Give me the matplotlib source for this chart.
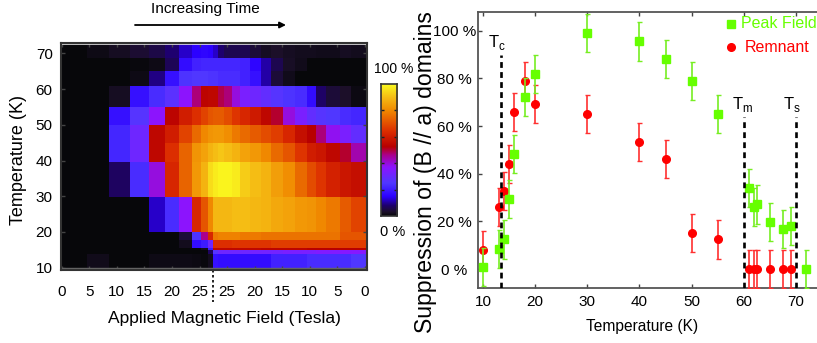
import matplotlib
matplotlib.use('Agg')
import matplotlib.pyplot as plt
import numpy as np
from matplotlib.colors import LinearSegmentedColormap

plt.rcParams['font.family'] = ['Liberation Sans', 'DejaVu Sans']

# heatmap data
field_edges = [0, 4.7, 8.6, 12.4, 15.8, 18.8, 21.3, 23.6, 25.2, 26.6, 27.5, 28.4, 29.4,
               30.8, 32.3, 34.1, 36.2, 38, 40.2, 42.3, 44.4, 46.2, 48, 50.4, 52.5, 55.3]
temp_edges = [9.35, 13.8, 15, 15.5, 17.8, 20, 29.8, 39.7, 44.8, 50, 55.1, 61, 65.1, 68.7, 72.9]
row_blue = [0, .04, 0, 0, .03, .03, .03, .02, .01, .05, .28, .27, .27, .27, .27, .27, .27, .31, .31, .31, .33, .33, .33, .33, .35]
row_violet = [0, 0, 0, 0, 0, 0, 0, 0, 0, .15, .36, .4, .4, .4, .4, .41, .41, .41, .42, .42, .42, .43, .43, .44, .44]
row_dark = [0, 0, 0, 0, 0, 0, 0, 0, .05, .3, .6, .6, .6, .6, .6, .6, .59, .59, .59, .59, .58, .58, .58, .58, .58]
row_red = [0, 0, 0, 0, 0, 0, .05, .27, .3, .4, .7, .7, .7, .71, .71, .71, .71, .72, .72, .72, .72, .72, .72, .72, .72]
row_orange = [0, 0, 0, 0, 0, 0, .1, .34, .52, .68, .8, .81, .81, .81, .8, .8, .79, .79, .79, .79, .79, .79, .79, .75, .75]
row_20 = [0, 0, 0, 0, .22, .33, .45, .68, .75, .82, .91, .91, .91, .92, .92, .91, .9, .88, .87, .85, .84, .82, .8, .76, .73]
row_30 = [0, 0, .15, .33, .47, .68, .77, .85, .9, .96, .98, .99, .99, .98, .94, .92, .9, .86, .83, .78, .74, .71, .67, .64, .62]
row_40 = [0, 0, .32, .4, .6, .7, .77, .84, .87, .9, .92, .93, .92, .9, .87, .85, .82, .78, .75, .71, .66, .64, .6, .56, .5]
row_45 = [0, 0, .32, .4, .6, .66, .73, .78, .82, .84, .85, .85, .83, .8, .78, .76, .74, .72, .68, .62, .58, .53, .46, .42, .38]
row_50 = [0, 0, .28, .36, .45, .59, .66, .7, .73, .75, .76, .76, .74, .71, .68, .65, .6, .56, .47, .42, .38, .36, .35, .33, .32]
row_55 = [0, 0, .06, .28, .33, .37, .45, .53, .59, .6, .6, .55, .53, .47, .42, .4, .38, .36, .34, .33, .27, .16, .1, .08, .02]
row_61 = [0, 0, 0, .03, .18, .28, .34, .35, .35, .34, .34, .33, .33, .33, .31, .28, .2, .1, .04, 0, 0, 0, 0, 0, 0]
row_65 = [0, 0, 0, .01, .03, .14, .27, .31, .32, .32, .32, .32, .32, .32, .31, .26, .2, .13, .07, .04, 0, 0, 0, 0, 0]
row_69 = [0, .03, .06, .09, .12, .17, .22, .25, .26, .25, .22, .17, .13, .13, .13, .1, .06, .08, .06, .05, .05, .04, .04, .06, .05]
heat_rows = [row_blue, row_violet, row_dark, row_red, row_orange, row_20, row_30, row_40,
             row_45, row_50, row_55, row_61, row_65, row_69]
field_ticks = [0, 5, 10, 15, 20, 25, 30, 35, 40, 45, 50, 55]
field_labels = ['0', '5', '10', '15', '20', '25', '25', '20', '15', '10', '5', '0']
temp_ticks = [10, 20, 30, 40, 50, 60, 70]

# suppression data
peak_t = [10, 13, 14, 15, 16, 18, 20, 30, 40, 45, 50, 55, 61, 62, 62.5, 65, 67.5, 69, 72]
peak_v = [0.8, 8.3, 12.4, 29.4, 48.3, 72.3, 82, 99, 95.5, 88, 78.9, 65.2, 34.1, 26.1, 27.1, 19.6, 16.8, 17.9, 0]
rem_t = [10, 13, 14, 15, 16, 18, 20, 30, 40, 45, 50, 55, 61, 62, 62.5, 65, 67.5, 69]
rem_v = [8, 25.9, 32.6, 44, 66, 79, 69.4, 65.2, 53.4, 46.2, 15.2, 12.4, 0, 0, 0, 0, 0, 0]
err = 8

colors = ['#07070a', '#1c0f2a', '#1e0070', '#2c00ff', '#5038ff', '#8c14ff', '#aa0090',
          '#b80000', '#dc2c00', '#f08800', '#f5bc14', '#fafa1e']
mesh_stops = [0, .08, .17, .25, .35, .45, .52, .58, .7, .82, .92, 1]
bar_stops = [0, .03, .08, .146, .25, .37, .46, .525, .64, .8, .9, 1]
mesh_cmap = LinearSegmentedColormap.from_list('mesh', list(zip(mesh_stops, colors)))
bar_cmap = LinearSegmentedColormap.from_list('bar', list(zip(bar_stops, colors)))

W, H = 817, 343
spine = '#333333'


def box(x0, y0, x1, y1):
    return fig.add_axes([x0 / W, 1 - y1 / H, (x1 - x0) / W, (y1 - y0) / H])


fig = plt.figure(figsize=(W / 100, H / 100), dpi=100)

# left panel
ax = box(61, 43, 366.7, 270)
ax.pcolormesh(field_edges, temp_edges, np.array(heat_rows), cmap=mesh_cmap, vmin=0, vmax=1)
ax.set_xlim(-0.1, 55.3)
ax.set_ylim(9.35, 72.9)
ax.set_xticks(field_ticks)
ax.set_xticklabels(field_labels)
ax.set_yticks(temp_ticks)
ax.tick_params(direction='in', length=3, width=1, color='#444444', labelsize=11, top=True, right=True, pad=6)
ax.tick_params(axis='x', pad=10.5)
ax.axhline(72.5, color='#e8e8e8', lw=1.2)
ax.axhline(9.8, color='#666666', lw=1)
for s in ax.spines.values():
    s.set_color(spine)
    s.set_linewidth(1.5)
ax.plot([27.5, 27.5], [9.35, 0.4], color='black', ls=(0, (1.5, 1.5)), lw=1.2, clip_on=False)
fig.text(19 / W, 1 - 160 / H, 'Temperature (K)', rotation=90, ha='center', va='center', fontsize=13)
fig.text(224 / W, 1 - 318 / H, 'Applied Magnetic Field (Tesla)', ha='center', va='center', fontsize=12.5)
fig.text(205 / W, 1 - 9 / H, 'Increasing Time', ha='center', va='center', fontsize=11.1)
fig.add_artist(matplotlib.patches.FancyArrowPatch((135 / W, 1 - 25 / H), (286 / W, 1 - 25 / H),
                                                  transform=fig.transFigure, arrowstyle='-|>',
                                                  mutation_scale=9, lw=1.3, color='black',
                                                  shrinkA=0, shrinkB=0))

# colorbar
cax = box(380.7, 84, 397, 216)
cax.imshow(np.linspace(1, 0, 256).reshape(-1, 1), aspect='auto', cmap=bar_cmap, vmin=0, vmax=1,
           extent=[0, 1, 0, 100])
cax.set_xticks([])
cax.set_yticks([20, 40, 60, 80])
cax.set_yticklabels([])
cax.tick_params(direction='in', length=2.5, width=1, color='#222222', left=True, right=True)
for s in cax.spines.values():
    s.set_color(spine)
    s.set_linewidth(1.2)
fig.text(394 / W, 1 - 69 / H, '100 %', ha='center', va='center', fontsize=10)
fig.text(393 / W, 1 - 232.5 / H, '0 %', ha='center', va='center', fontsize=10.5)

# right panel
ax2 = box(478, 11.7, 817, 288)
ax2.errorbar(rem_t, rem_v, yerr=err, fmt='o', color='#ff0000', ecolor='#ff3030', ms=5.5, elinewidth=1.2,
             capsize=1.8, capthick=1, zorder=3)
ax2.errorbar(peak_t, peak_v, yerr=err, fmt='s', color='#66ff00', ecolor='#77ee22', ms=5.2, elinewidth=1.2,
             capsize=1.8, capthick=1, zorder=4)
for t, top in [(13.5, 90), (60, 64), (70, 64)]:
    ax2.plot([t, t], [-8, top], color='black', ls=(0, (2.2, 1.6)), lw=1.9, zorder=5)
ax2.set_xlim(9.04, 74.05)
ax2.set_ylim(-7.97, 108)
ax2.set_xticks([10, 20, 30, 40, 50, 60, 70])
ax2.set_yticks([0, 20, 40, 60, 80, 100])
ax2.set_yticklabels(['0 %', '20 %', '40 %', '60 %', '80 %', '100 %'])
ax2.tick_params(direction='in', length=3, width=1, color='#444444', labelsize=11, top=True, pad=5)
ax2.tick_params(axis='y', pad=17)
for lab in ax2.get_yticklabels():
    lab.set_ha('center')
ax2.spines['right'].set_visible(False)
for s in ax2.spines.values():
    s.set_color('#555555')
    s.set_linewidth(1.3)
ax2.plot([0.745], [0.955], 's', color='#66ff00', ms=5.5, transform=ax2.transAxes)
ax2.plot([0.745], [0.872], 'o', color='#ff0000', ms=5.5, transform=ax2.transAxes)
fig.text(741 / W, 1 - 23 / H, 'Peak Field', color='#66ff00', va='center', fontsize=11.5)
fig.text(745 / W, 1 - 47 / H, 'Remnant', color='#ff0000', va='center', fontsize=11.5)
fig.text(497 / W, 1 - 42 / H, 'T$_{\\mathregular{c}}$', ha='center', va='center', fontsize=12)
fig.text(743 / W, 1 - 104 / H, 'T$_{\\mathregular{m}}$', ha='center', va='center', fontsize=12)
fig.text(792 / W, 1 - 104 / H, 'T$_{\\mathregular{s}}$', ha='center', va='center', fontsize=12)
fig.text(425.5 / W, 1 - 172 / H, 'Suppression of (B // a) domains', rotation=90, ha='center', va='center', fontsize=16.6)
fig.text(642 / W, 1 - 327 / H, 'Temperature (K)', ha='center', va='center', fontsize=11.2)

fig.savefig('out.png', dpi=100)
